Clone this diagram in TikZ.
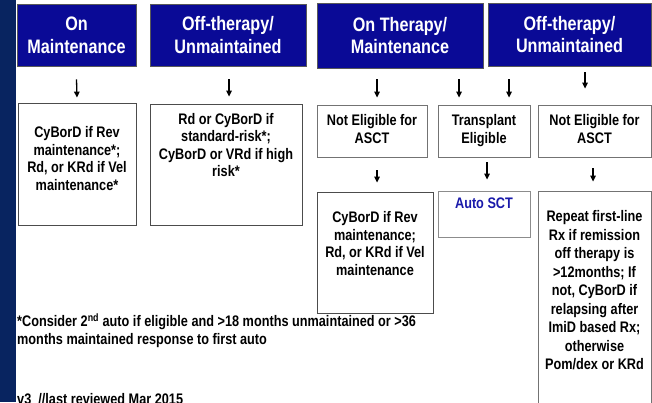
\documentclass[tikz,border=0pt]{standalone}
\usepackage{fontspec}
\setmainfont{Liberation Sans}[FakeStretch=0.83]
\usetikzlibrary{arrows.meta,calc}
\definecolor{navyband}{RGB}{8,36,96}
\definecolor{hdblue}{RGB}{10,10,150}
\definecolor{sctblue}{RGB}{26,26,170}
\newcommand\hdfont{\fontsize{19.5}{22.7}\selectfont\bfseries}
\newcommand\bxfont{\fontsize{15.3}{17.5}\selectfont\bfseries}

\begin{document}
\begin{tikzpicture}[x=1pt,y=-1pt,
    hdbox/.style={draw=black!65,line width=0.8pt,fill=hdblue,text=white,font=\hdfont,align=center,inner sep=0pt},
    bxbox/.style={draw=black!70,line width=0.8pt,fill=white,inner sep=0pt},
    bxtext/.style={font=\bxfont,align=center,inner sep=0pt,anchor=north},
    arr/.style={line width=1.3pt,-{Triangle[length=6pt,width=5.5pt]}}]
    \useasboundingbox (0,0) rectangle (652,402);
    \clip (0,0) rectangle (652,402);
    \fill[navyband] (0,0) rectangle (16,402);
    % headers
    \node[hdbox,minimum width=119pt,minimum height=62pt] (hd1) at (76.5,35) {On\\Maintenance};
    \node[hdbox,minimum width=156pt,minimum height=62pt] (hd2) at (228,35) {Off-therapy/\\Unmaintained};
    \node[hdbox,minimum width=166pt,minimum height=65pt] (hd3) at (400,35.5) {On Therapy/\\Maintenance};
    \node[hdbox,minimum width=163pt,minimum height=63pt] (hd4) at (569.5,34.5) {Off-therapy/\\Unmaintained};
    % boxes
    \node[bxbox,minimum width=118pt,minimum height=122pt] (bA) at (77,164) {};
    \node[bxbox,minimum width=152pt,minimum height=121pt] (bB) at (226,164.5) {};
    \node[bxbox,draw=black!55,minimum width=110pt,minimum height=52pt] (bC) at (372,131) {};
    \node[bxbox,draw=black!55,minimum width=92pt,minimum height=52pt] (bD) at (484,131) {};
    \node[bxbox,draw=black!55,minimum width=113pt,minimum height=52pt] (bE) at (594.5,131) {};
    \node[bxbox,minimum width=116pt,minimum height=121pt] (bF) at (375,252.5) {};
    \node[bxbox,draw=black!45,minimum width=92pt,minimum height=46pt] (bG) at (484,214) {};
    \node[bxbox,draw=black!55,minimum width=113pt,minimum height=240pt] (bH) at (594.5,311) {};
    % box texts
    \node[bxtext] (tA) at ($(bA.north)+(0,24)$) {CyBorD if Rev\\maintenance*;\\Rd, or KRd if Vel\\maintenance*};
    \node[bxtext] (tB) at ($(bB.north)+(0,9.5)$) {Rd or CyBorD if\\standard-risk*;\\CyBorD or VRd if high\\risk*};
    \node[bxtext] (tC) at ($(bC.north)+(0,10)$) {Not Eligible for\\ASCT};
    \node[bxtext] (tD) at ($(bD.north)+(0,10)$) {Transplant\\Eligible};
    \node[bxtext] (tE) at ($(bE.north)+(0,10)$) {Not Eligible for\\ASCT};
    \node[bxtext] (tF) at ($(bF.north)+(0,20)$) {CyBorD if Rev\\maintenance;\\Rd, or KRd if Vel\\maintenance};
    \node[bxtext,text=sctblue] (tG) at ($(bG.north)+(0,7)$) {Auto SCT};
    \node[bxtext,font=\fontsize{15.3}{18.5}\selectfont\bfseries] (tH) at ($(bH.north)+(0,20)$) {Repeat first-line\\Rx if remission\\off therapy is\\>12months; If\\not, CyBorD if\\relapsing after\\ImiD based Rx;\\otherwise\\Pom/dex or KRd};
    % arrows
    \draw[arr] ($(hd1.south)+(0,13)$) -- ($(bA.north)+(0,-5)$);
    \draw[arr] ($(hd2.south)+(1,13)$) -- ($(bB.north)+(3,-7)$);
    \draw[arr] ($(hd3.south -| bC.north)+(5,11)$) -- ($(bC.north)+(5,-7)$);
    \draw[arr] ($(hd3.south -| bD.north)+(-25,11)$) -- ($(bD.north)+(-25,-7)$);
    \draw[arr] ($(hd4.south -| bD.north)+(25,13)$) -- ($(bD.north)+(25,-7)$);
    \draw[arr] ($(hd4.south -| bE.north)+(-9.5,6)$) -- ($(bE.north)+(-9.5,-16)$);
    \draw[arr] ($(bC.south -| bF.north)+(2,13)$) -- ($(bF.north)+(2,-9)$);
    \draw[arr] ($(bD.south)+(3,5)$) -- ($(bG.north)+(3,-11)$);
    \draw[arr] ($(bE.south)+(-1.5,11)$) -- ($(bH.north)+(-1.5,-9)$);
    % notes
    \node[font=\bxfont,align=left,anchor=base west,inner sep=0pt] (fn) at (17,344) {*Consider 2\textsuperscript{nd} auto if eligible and >18 months unmaintained or >36\\months maintained response to first auto};
    \node[font=\bxfont,anchor=base west,inner sep=0pt] (vr) at (17,404) {v3\ \ //last reviewed Mar 2015};
\end{tikzpicture}
\end{document}
